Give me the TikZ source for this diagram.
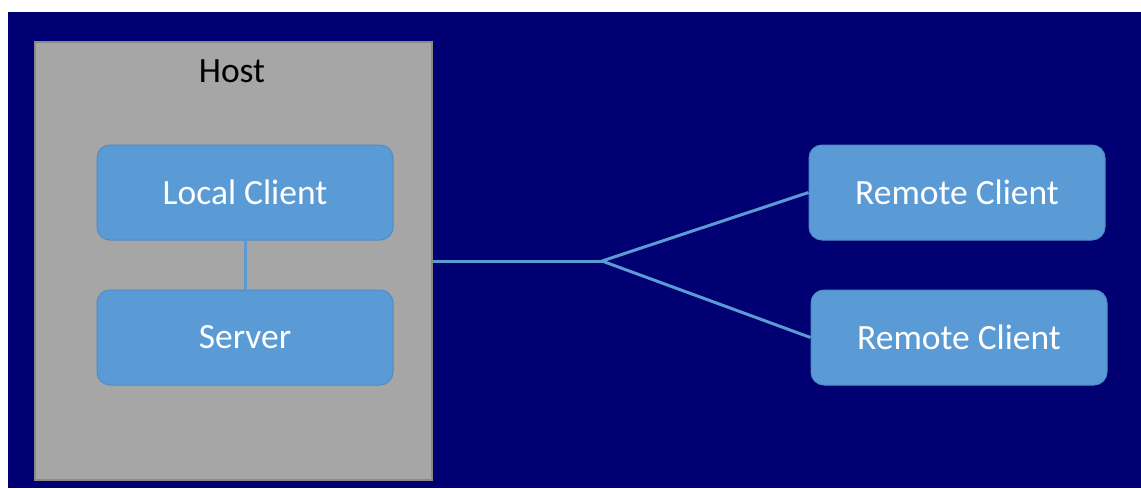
\documentclass[tikz,border=0pt]{standalone}
\usepackage{fontspec}
\setmainfont{Carlito}
\definecolor{navybg}{HTML}{000072}
\definecolor{hostgray}{HTML}{A6A6A6}
\definecolor{hostedge}{HTML}{8A8A8A}
\definecolor{boxblue}{HTML}{5B9BD5}
\definecolor{boxedge}{HTML}{4E8CC8}
\begin{document}
\begin{tikzpicture}[x=1pt,y=-1pt,
  hostbox/.style={draw=hostedge, line width=1.2pt, fill=hostgray, inner sep=0pt},
  bluebox/.style={draw=boxedge, line width=1pt, fill=boxblue, rounded corners=13pt,
    inner sep=0pt, text=white, font=\fontsize{35.5}{42}\selectfont},
  link/.style={draw=boxblue, line width=3pt}]
  % page and backdrop
  \fill[white] (0,0) rectangle (1141,488);
  \fill[navybg] (8,12) rectangle (1141,488);
  \useasboundingbox (0,0) rectangle (1141,488);

  % host container
  \node[hostbox, minimum width=397pt, minimum height=438pt] (host) at (233.5,261) {};
  \node[font=\fontsize{35.5}{42}\selectfont, text=black] (hostlabel) at (232,71) {Host};

  % boxes
  \node[bluebox, minimum width=296pt, minimum height=95pt] (local) at (245,192.5) {Local Client};
  \node[bluebox, minimum width=296pt, minimum height=95pt] (server) at (245,337.5) {Server};
  \node[bluebox, minimum width=296pt, minimum height=95pt] (remoteA) at (957,192.5) {Remote Client};
  \node[bluebox, minimum width=296pt, minimum height=95pt] (remoteB) at (959,337.5) {Remote Client};

  % connectors
  \coordinate (split) at (602,261);
  \draw[link] (local.south) -- (server.north);
  \draw[link] (host.east) -- (split);
  \draw[link] (split) -- (remoteA.west);
  \draw[link] (split) -- (remoteB.west);
\end{tikzpicture}
\end{document}
